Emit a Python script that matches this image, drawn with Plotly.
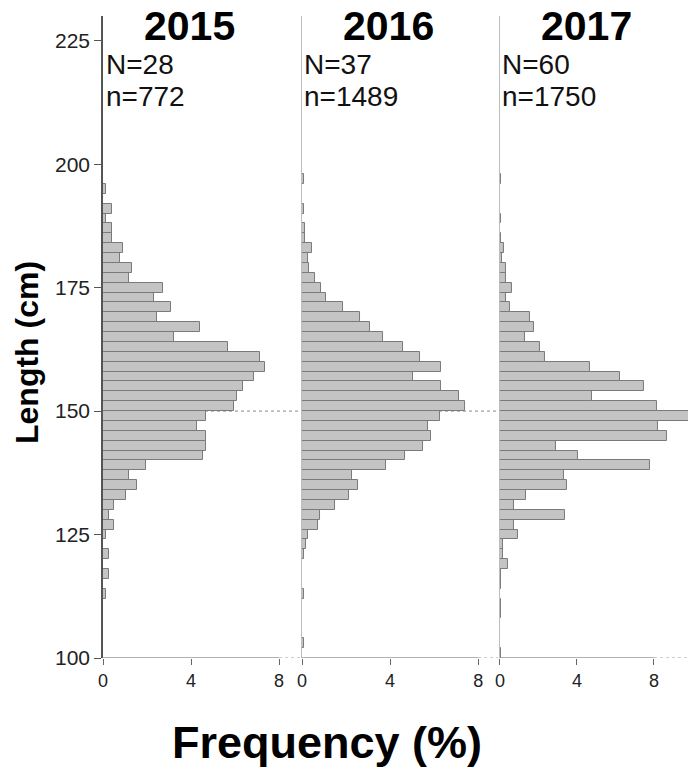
import plotly.graph_objects as go

# ---- data (bin centres in cm, frequency in %) ----
years = ["2015", "2016", "2017"]
N_fish = ["N=28", "N=37", "N=60"]
n_meas = ["n=772", "n=1489", "n=1750"]

len_2015 = [113, 117, 121, 125, 127, 129, 131, 133, 135, 137, 139, 141, 143, 145, 147, 149,
            151, 153, 155, 157, 159, 161, 163, 165, 167, 169, 171, 173, 175, 177, 179, 181,
            183, 185, 187, 189, 191, 195]
frq_2015 = [0.13, 0.26, 0.26, 0.13, 0.52, 0.26, 0.52, 1.04, 1.55, 1.17, 1.94, 4.53, 4.66, 4.66,
            4.27, 4.66, 5.96, 6.09, 6.35, 6.87, 7.38, 7.12, 5.70, 3.24, 4.40, 2.46, 3.11, 2.33,
            2.72, 1.17, 1.30, 0.78, 0.91, 0.39, 0.39, 0.13, 0.39, 0.13]

len_2016 = [103, 113, 121, 123, 125, 127, 129, 131, 133, 135, 137, 139, 141, 143, 145, 147,
            149, 151, 153, 155, 157, 159, 161, 163, 165, 167, 169, 171, 173, 175, 177, 179,
            181, 183, 185, 187, 191, 197]
frq_2016 = [0.07, 0.07, 0.07, 0.20, 0.27, 0.74, 0.81, 1.48, 2.15, 2.55, 2.28, 3.83, 4.70, 5.51,
            5.88, 5.71, 6.25, 7.39, 7.12, 6.31, 5.04, 6.31, 5.37, 4.57, 3.69, 3.09, 2.62, 1.88,
            1.07, 0.87, 0.60, 0.34, 0.27, 0.47, 0.13, 0.13, 0.07, 0.07]

len_2017 = [101, 109, 111, 115, 117, 119, 121, 123, 125, 127, 129, 131, 133, 135, 137, 139,
            141, 143, 145, 147, 149, 151, 153, 155, 157, 159, 161, 163, 165, 167, 169, 171,
            173, 175, 177, 179, 181, 183, 185, 189, 197]
frq_2017 = [0.06, 0.06, 0.06, 0.06, 0.06, 0.40, 0.14, 0.14, 0.91, 0.74, 3.37, 0.74, 1.37, 3.49,
            3.31, 7.77, 4.06, 2.91, 8.69, 8.23, 9.90, 8.17, 4.80, 7.49, 6.23, 4.69, 2.34, 2.06,
            1.31, 1.77, 1.54, 0.51, 0.29, 0.63, 0.29, 0.29, 0.11, 0.23, 0.06, 0.06, 0.06]

x_ticks = [0, 4, 8]
y_ticks = [100, 125, 150, 175, 200, 225]

lengths = [len_2015, len_2016, len_2017]
freqs = [frq_2015, frq_2016, frq_2017]
x_max = [8.95, 8.9, 9.77]
domains = [[0.0, 0.3368], [0.3402, 0.6752], [0.6786, 1.0]]

FONT = "Liberation Sans, Arial, sans-serif"

fig = go.Figure()
for i in range(3):
    sfx = "" if i == 0 else str(i + 1)
    fig.add_trace(go.Bar(
        y=lengths[i], x=freqs[i], orientation="h", width=2,
        marker=dict(color="#c4c4c4", line=dict(color="#7a7a7a", width=1)),
        xaxis="x" + sfx, yaxis="y" + sfx, showlegend=False,
    ))

layout = dict(
    width=688, height=771,
    margin=dict(l=103, r=0, t=16, b=113),
    paper_bgcolor="white", plot_bgcolor="white",
    font=dict(family=FONT, color="#222"),
    bargap=0,
    shapes=[], annotations=[],
)

for i in range(3):
    sfx = "" if i == 0 else str(i + 1)
    layout["xaxis" + sfx] = dict(
        domain=domains[i], range=[0, x_max[i]], tickvals=x_ticks,
        ticks="outside", ticklen=6, tickcolor="#666", tickwidth=1,
        showline=False, showgrid=False, zeroline=False,
        tickfont=dict(size=18, family=FONT, color="#222"),
        anchor="y" + sfx, fixedrange=True,
    )
    ya = dict(
        range=[100, 230], showgrid=False, zeroline=False,
        showline=True, anchor="x" + sfx,
    )
    if i == 0:
        ya.update(tickvals=y_ticks, ticks="outside", ticklen=7, tickcolor="#555",
                  linecolor="#555", linewidth=1.5,
                  tickfont=dict(size=21, family=FONT, color="#222"))
    else:
        ya.update(matches="y", showticklabels=False, ticks="",
                  linecolor="#bdbdbd", linewidth=1.2)
    layout["yaxis" + sfx] = ya

    # bottom axis: solid up to 8, dotted beyond
    layout["shapes"].append(dict(type="line", xref="x" + sfx, yref="y", x0=0, x1=8,
                                 y0=100, y1=100, line=dict(color="#666", width=1.2)))
    layout["shapes"].append(dict(type="line", xref="x" + sfx, yref="y", x0=8, x1=x_max[i],
                                 y0=100, y1=100, line=dict(color="#999", width=1, dash="dot")))

# dotted reference line at 150 cm
layout["shapes"].append(dict(type="line", xref="paper", yref="y", x0=0, x1=1, y0=150, y1=150,
                             line=dict(color="#888", width=1, dash="dot"), layer="below"))

plot_h = 771 - 16 - 113
plot_w = 688 - 103

def px_to_paper(xp, yp):
    return (xp - 103) / plot_w, (771 - 113 - yp) / plot_h

title_cx = [189, 388, 586]
text_lx = [104, 302, 500]
for i in range(3):
    x, y = px_to_paper(title_cx[i], 26)
    layout["annotations"].append(dict(text="<b>%s</b>" % years[i], x=x, y=y, xref="paper", yref="paper",
                                      xanchor="center", yanchor="middle", showarrow=False,
                                      font=dict(size=41, family=FONT, color="black")))
    x, y = px_to_paper(text_lx[i], 64)
    layout["annotations"].append(dict(text=N_fish[i], x=x, y=y, xref="paper", yref="paper",
                                      xanchor="left", yanchor="middle", showarrow=False,
                                      font=dict(size=28, family=FONT, color="#111")))
    x, y = px_to_paper(text_lx[i], 97)
    layout["annotations"].append(dict(text=n_meas[i], x=x, y=y, xref="paper", yref="paper",
                                      xanchor="left", yanchor="middle", showarrow=False,
                                      font=dict(size=28, family=FONT, color="#111")))

x, y = px_to_paper(27, 353)
layout["annotations"].append(dict(text="<b>Length (cm)</b>", x=x, y=y, xref="paper", yref="paper",
                                  xanchor="center", yanchor="middle", textangle=-90, showarrow=False,
                                  font=dict(size=32, family=FONT, color="black")))
x, y = px_to_paper(327, 742)
layout["annotations"].append(dict(text="<b>Frequency (%)</b>", x=x, y=y, xref="paper", yref="paper",
                                  xanchor="center", yanchor="middle", showarrow=False,
                                  font=dict(size=45, family=FONT, color="black")))

fig.update_layout(**layout)
fig.write_html("out.html", config={"displayModeBar": False},
               post_script="document.body.style.margin='0';document.body.style.overflow='hidden';")
